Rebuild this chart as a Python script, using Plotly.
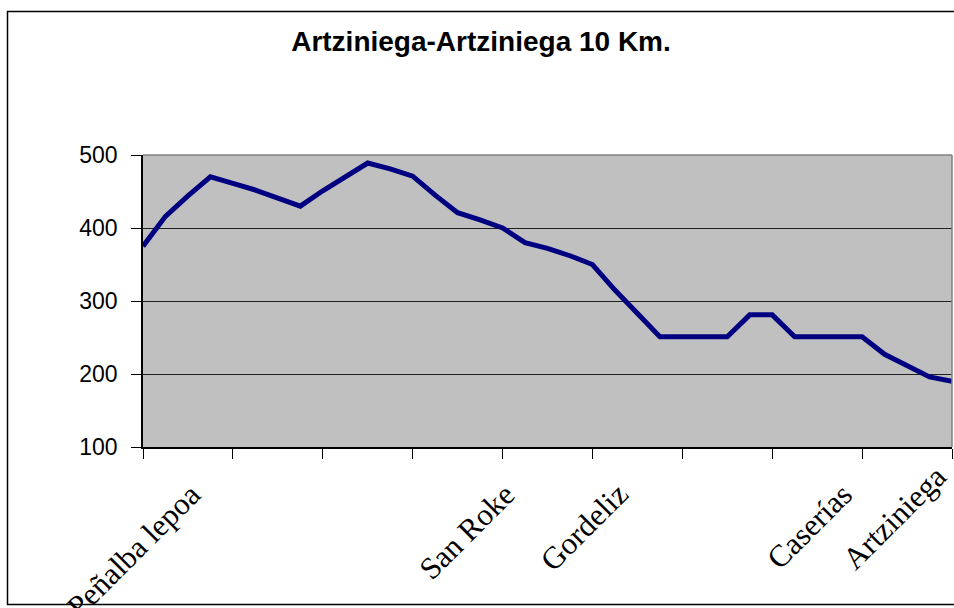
import plotly.graph_objects as go

# ---- data ----
categories = [""] * 37
categories[2] = "Peñalba lepoa"
categories[16] = "San Roke"
categories[21] = "Gordeliz"
categories[31] = "Caserías"
categories[36] = "Artziniega"

altitude = [375, 416, 444, 470, 461, 452, 441, 430, 451, 470, 489, 481, 471,
            445, 421, 411, 400, 380, 372, 362, 350, 315, 283, 251, 251, 251,
            251, 281, 281, 251, 251, 251, 251, 227, 211, 196, 190]

y_ticks = [100, 200, 300, 400, 500]
title_text = "Artziniega-Artziniega 10 Km."

# ---- layout constants ----
W, H = 954, 608
L, R, T, B = 143, 2, 155, 161
PW = W - L - R
PH = H - T - B
x_idx = list(range(len(altitude)))
n = len(altitude) - 1

fig = go.Figure()
fig.add_trace(go.Scatter(
    x=x_idx, y=altitude, mode="lines",
    line=dict(color="#000080", width=5),
    hoverinfo="skip", showlegend=False,
))

# category labels as rotated annotations
annotations = []
base_dx, base_dy = 22, -27
right_limit = 956
for i, name in enumerate(categories):
    if not name:
        continue
    cat_px = L + PW * i / n
    dx, dy = base_dx, base_dy
    excess = cat_px + dx - right_limit
    if excess > 0:
        dx -= excess
        dy += excess
    annotations.append(dict(
        x=i, y=0, xref="x", yref="paper", text=name, showarrow=False,
        textangle=-45, xanchor="right", yanchor="top",
        xshift=dx, yshift=dy,
        font=dict(family="Liberation Serif", size=31, color="black"),
    ))

def px_x(p):
    return (p - L) / PW

def px_y(p):
    return (H - B - p) / PH

shapes = [
    # outer chart frame
    dict(type="rect", xref="paper", yref="paper",
         x0=px_x(7.5), x1=px_x(956), y0=px_y(604.5), y1=px_y(11.5),
         line=dict(color="black", width=1.5), fillcolor="rgba(0,0,0,0)",
         layer="below"),
    # plot area top/right border (gray)
    dict(type="line", xref="paper", yref="paper", x0=0, x1=1, y0=1, y1=1,
         line=dict(color="#808080", width=1.5), layer="above"),
    dict(type="line", xref="paper", yref="paper", x0=1, x1=1, y0=0, y1=1,
         line=dict(color="#808080", width=1.5), layer="above"),
]

fig.update_layout(
    width=W, height=H,
    margin=dict(l=L, r=R, t=T, b=B),
    paper_bgcolor="white",
    plot_bgcolor="#c0c0c0",
    title=dict(text=title_text, x=481 / W, xref="container", xanchor="center",
               y=1 - 41 / H, yref="container", yanchor="middle",
               font=dict(family="Liberation Sans", size=28, color="black",
                         weight="bold")),
    annotations=annotations,
    shapes=shapes,
    showlegend=False,
)

fig.update_xaxes(
    range=[0, n], tickmode="array", tickvals=list(range(0, n + 1, 4)),
    showticklabels=False, ticks="outside", ticklen=10, tickwidth=1,
    tickcolor="black", showline=True, linecolor="black", linewidth=1.5,
    showgrid=False, zeroline=False,
)
fig.update_yaxes(
    range=[100, 500], tickmode="array", tickvals=y_ticks,
    ticks="outside", ticklen=10, tickwidth=1, tickcolor="black",
    showline=True, linecolor="black", linewidth=1.5,
    showgrid=True, gridcolor="#202020", gridwidth=1, zeroline=False,
    ticklabelstandoff=9,
    tickfont=dict(family="Liberation Sans", size=23, color="black"),
)

fig.write_html(
    "out.html",
    config={"displayModeBar": False},
    post_script="document.body.style.margin='0';document.body.style.overflow='hidden';",
)
